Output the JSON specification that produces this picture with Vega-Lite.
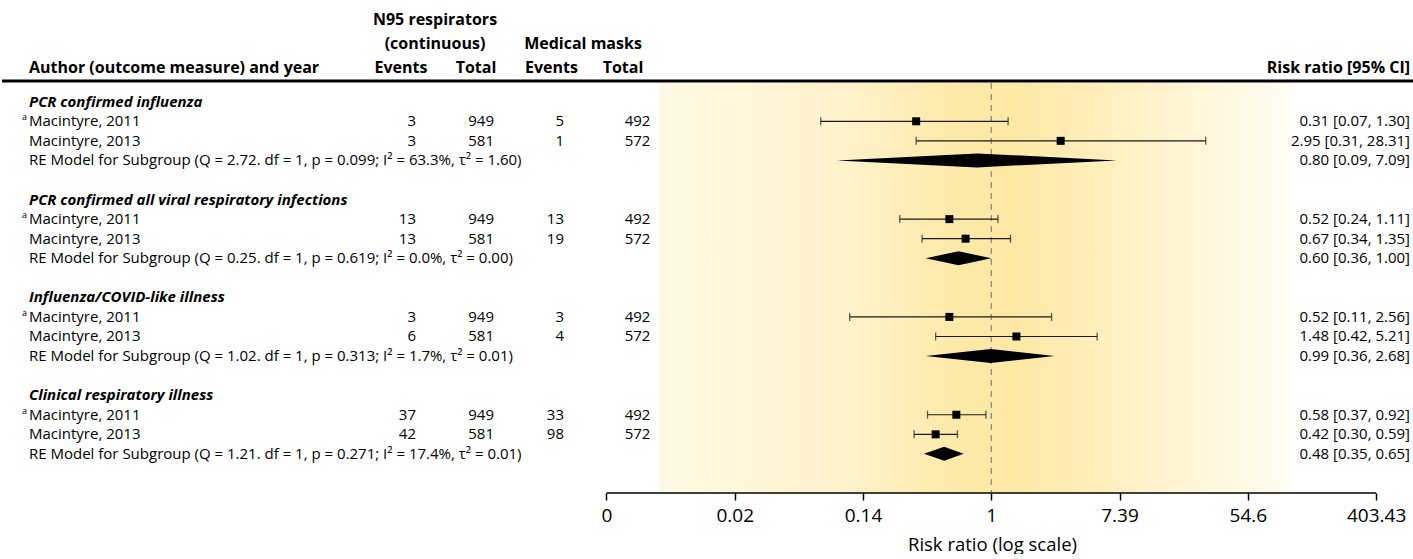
{
  "$schema": "https://vega.github.io/schema/vega-lite/v6.json",
  "width": 1413,
  "height": 493,
  "padding": 0,
  "autosize": {"type": "pad"},
  "background": "white",
  "config": {
    "view": {"stroke": null},
    "font": "Open Sans",
    "text": {"font": "Open Sans", "fontSize": 15, "color": "#000", "baseline": "middle"},
    "axisX": {"grid": false, "domain": false}
  },
  "datasets": {
    "rows": [
      {"row": 0, "kind": "title", "label": "PCR confirmed influenza"},
      {"row": 1, "kind": "study", "label": "Macintyre, 2011", "note": "a", "e1": 3, "n1": 949, "e2": 5, "n2": 492, "est": 0.31, "lo": 0.07, "hi": 1.30, "ci": "0.31 [0.07, 1.30]"},
      {"row": 2, "kind": "study", "label": "Macintyre, 2013", "e1": 3, "n1": 581, "e2": 1, "n2": 572, "est": 2.95, "lo": 0.31, "hi": 28.31, "ci": "2.95 [0.31, 28.31]"},
      {"row": 3, "kind": "model", "label": "RE Model for Subgroup (Q = 2.72. df = 1, p = 0.099; I² = 63.3%, τ² = 1.60)", "est": 0.80, "lo": 0.09, "hi": 7.09, "ci": "0.80 [0.09, 7.09]"},
      {"row": 5, "kind": "title", "label": "PCR confirmed all viral respiratory infections"},
      {"row": 6, "kind": "study", "label": "Macintyre, 2011", "note": "a", "e1": 13, "n1": 949, "e2": 13, "n2": 492, "est": 0.52, "lo": 0.24, "hi": 1.11, "ci": "0.52 [0.24, 1.11]"},
      {"row": 7, "kind": "study", "label": "Macintyre, 2013", "e1": 13, "n1": 581, "e2": 19, "n2": 572, "est": 0.67, "lo": 0.34, "hi": 1.35, "ci": "0.67 [0.34, 1.35]"},
      {"row": 8, "kind": "model", "label": "RE Model for Subgroup (Q = 0.25. df = 1, p = 0.619; I² = 0.0%, τ² = 0.00)", "est": 0.60, "lo": 0.36, "hi": 1.00, "ci": "0.60 [0.36, 1.00]"},
      {"row": 10, "kind": "title", "label": "Influenza/COVID-like illness"},
      {"row": 11, "kind": "study", "label": "Macintyre, 2011", "note": "a", "e1": 3, "n1": 949, "e2": 3, "n2": 492, "est": 0.52, "lo": 0.11, "hi": 2.56, "ci": "0.52 [0.11, 2.56]"},
      {"row": 12, "kind": "study", "label": "Macintyre, 2013", "e1": 6, "n1": 581, "e2": 4, "n2": 572, "est": 1.48, "lo": 0.42, "hi": 5.21, "ci": "1.48 [0.42, 5.21]"},
      {"row": 13, "kind": "model", "label": "RE Model for Subgroup (Q = 1.02. df = 1, p = 0.313; I² = 1.7%, τ² = 0.01)", "est": 0.99, "lo": 0.36, "hi": 2.68, "ci": "0.99 [0.36, 2.68]"},
      {"row": 15, "kind": "title", "label": "Clinical respiratory illness"},
      {"row": 16, "kind": "study", "label": "Macintyre, 2011", "note": "a", "e1": 37, "n1": 949, "e2": 33, "n2": 492, "est": 0.58, "lo": 0.37, "hi": 0.92, "ci": "0.58 [0.37, 0.92]"},
      {"row": 17, "kind": "study", "label": "Macintyre, 2013", "e1": 42, "n1": 581, "e2": 98, "n2": 572, "est": 0.42, "lo": 0.30, "hi": 0.59, "ci": "0.42 [0.30, 0.59]"},
      {"row": 18, "kind": "model", "label": "RE Model for Subgroup (Q = 1.21. df = 1, p = 0.271; I² = 17.4%, τ² = 0.01)", "est": 0.48, "lo": 0.35, "hi": 0.65, "ci": "0.48 [0.35, 0.65]"}
    ]
  },
  "data": {"name": "rows"},
  "layer": [
    {
      "transform": [{"filter": "datum.kind === 'study'"}],
      "mark": {"type": "rule", "color": "#1a1a1a", "strokeWidth": 1.2, "opacity": 0},
      "encoding": {
        "x": {"field": "lo", "type": "quantitative", "scale": {"type": "log", "domain": [2e-7, 740], "nice": false},
          "axis": {
            "values": [0.002478752, 0.018315639, 0.135335283, 1, 7.389056099, 54.59815003, 403.4287935],
            "format": ".2~f",
            "domain": false, "grid": false,
            "ticks": true, "tickSize": 7, "tickWidth": 1.5, "tickColor": "#000",
            "labelFont": "Open Sans", "labelFontSize": 19, "labelColor": "#000", "labelPadding": 6,
            "labelFlush": false, "labelOverlap": false,
            "title": "Risk ratio (log scale)", "titleFont": "Open Sans", "titleFontSize": 18.5, "titleFontWeight": "normal",
            "titleColor": "#000", "titlePadding": 10, "titleX": 990
          }},
        "x2": {"field": "hi"},
        "y": {"field": "row", "type": "quantitative", "scale": {"domain": [-5.2, 20], "reverse": true, "nice": false, "zero": false}, "axis": null}
      }
    },
    {
      "data": {"values": [{}]},
      "mark": {"type": "rect", "fill": {"gradient": "linear", "x1": 0, "y1": 0, "x2": 1, "y2": 0, "stops": [
        {"offset": 0, "color": "#fff9e4"},
        {"offset": 0.3, "color": "#fef2ca"},
        {"offset": 0.47, "color": "#fde9a8"},
        {"offset": 0.56, "color": "#fde8a4"},
        {"offset": 0.75, "color": "#fef1c6"},
        {"offset": 1, "color": "#fffdf3"}
      ]}},
      "encoding": {
        "x": {"datum": 0.005623, "type": "quantitative", "scale": {"type": "log", "domain": [2e-7, 740], "nice": false}},
        "x2": {"datum": 108.73},
        "y": {"datum": -0.96, "type": "quantitative", "scale": {"domain": [-5.2, 20], "reverse": true, "nice": false, "zero": false}, "axis": null},
        "y2": {"datum": 20}
      }
    },
    {
      "data": {"values": [{}]},
      "mark": {"type": "rule", "color": "#808080", "strokeWidth": 1.2, "strokeDash": [6, 5]},
      "encoding": {
        "x": {"datum": 1, "type": "quantitative", "scale": {"type": "log", "domain": [2e-7, 740], "nice": false}},
        "y": {"datum": -0.96, "type": "quantitative", "scale": {"domain": [-5.2, 20], "reverse": true, "nice": false, "zero": false}, "axis": null},
        "y2": {"datum": 20}
      }
    },
    {
      "data": {"values": [{}]},
      "mark": {"type": "rule", "color": "#000", "strokeWidth": 3},
      "encoding": {
        "x": {"datum": 2e-7, "type": "quantitative", "scale": {"type": "log", "domain": [2e-7, 740], "nice": false}},
        "x2": {"datum": 740},
        "y": {"datum": -1.06, "type": "quantitative", "scale": {"domain": [-5.2, 20], "reverse": true, "nice": false, "zero": false}, "axis": null}
      }
    },
    {
      "data": {"values": [{}]},
      "mark": {"type": "rule", "color": "#000", "strokeWidth": 1.5},
      "encoding": {
        "x": {"datum": 0.002478752, "type": "quantitative", "scale": {"type": "log", "domain": [2e-7, 740], "nice": false}},
        "x2": {"datum": 403.4287935},
        "y": {"datum": 20, "type": "quantitative", "scale": {"domain": [-5.2, 20], "reverse": true, "nice": false, "zero": false}, "axis": null}
      }
    },
    {
      "transform": [{"filter": "datum.kind === 'study'"}],
      "mark": {"type": "rule", "color": "#1a1a1a", "strokeWidth": 1.2},
      "encoding": {
        "x": {"field": "lo", "type": "quantitative", "scale": {"type": "log", "domain": [2e-7, 740], "nice": false}},
        "x2": {"field": "hi"},
        "y": {"field": "row", "type": "quantitative", "scale": {"domain": [-5.2, 20], "reverse": true, "nice": false, "zero": false}, "axis": null}
      }
    },
    {
      "transform": [{"filter": "datum.kind === 'study'"}, {"fold": ["lo", "hi"], "as": ["end", "value"]}],
      "mark": {"type": "tick", "orient": "vertical", "color": "#1a1a1a", "size": 8, "thickness": 1.3},
      "encoding": {
        "x": {"field": "value", "type": "quantitative", "scale": {"type": "log", "domain": [2e-7, 740], "nice": false}},
        "y": {"field": "row", "type": "quantitative", "scale": {"domain": [-5.2, 20], "reverse": true, "nice": false, "zero": false}, "axis": null}
      }
    },
    {
      "transform": [{"filter": "datum.kind === 'study'"}],
      "mark": {"type": "point", "shape": "square", "filled": true, "color": "#000", "size": 64, "opacity": 1},
      "encoding": {
        "x": {"field": "est", "type": "quantitative", "scale": {"type": "log", "domain": [2e-7, 740], "nice": false}},
        "y": {"field": "row", "type": "quantitative", "scale": {"domain": [-5.2, 20], "reverse": true, "nice": false, "zero": false}, "axis": null}
      }
    },
    {
      "transform": [{"filter": "datum.kind === 'model'"}, {"fold": ["lo", "est", "hi"], "as": ["key", "value"]}],
      "mark": {"type": "area", "orient": "vertical", "color": "#000", "opacity": 1,
        "yOffset": {"expr": "datum.key === 'est' ? -7 : 0"},
        "y2Offset": {"expr": "datum.key === 'est' ? 7 : 0"}},
      "encoding": {
        "x": {"field": "value", "type": "quantitative", "scale": {"type": "log", "domain": [2e-7, 740], "nice": false}},
        "y": {"field": "row", "type": "quantitative", "scale": {"domain": [-5.2, 20], "reverse": true, "nice": false, "zero": false}, "axis": null},
        "y2": {"field": "row"},
        "detail": {"field": "row", "type": "nominal"}
      }
    },
    {
      "transform": [{"filter": "datum.kind === 'title'"}],
      "mark": {"type": "text", "align": "left", "fontWeight": "bold", "fontStyle": "italic"},
      "encoding": {
        "x": {"datum": 3.047e-7, "type": "quantitative", "scale": {"type": "log", "domain": [2e-7, 740], "nice": false}},
        "y": {"field": "row", "type": "quantitative", "scale": {"domain": [-5.2, 20], "reverse": true, "nice": false, "zero": false}, "axis": null},
        "text": {"field": "label"}
      }
    },
    {
      "transform": [{"filter": "datum.kind !== 'title'"}],
      "mark": {"type": "text", "align": "left"},
      "encoding": {
        "x": {"datum": 3.047e-7, "type": "quantitative", "scale": {"type": "log", "domain": [2e-7, 740], "nice": false}},
        "y": {"field": "row", "type": "quantitative", "scale": {"domain": [-5.2, 20], "reverse": true, "nice": false, "zero": false}, "axis": null},
        "text": {"field": "label"}
      }
    },
    {
      "transform": [{"filter": "datum.note"}],
      "mark": {"type": "text", "align": "left", "fontSize": 9, "dy": -4},
      "encoding": {
        "x": {"datum": 2.732e-7, "type": "quantitative", "scale": {"type": "log", "domain": [2e-7, 740], "nice": false}},
        "y": {"field": "row", "type": "quantitative", "scale": {"domain": [-5.2, 20], "reverse": true, "nice": false, "zero": false}, "axis": null},
        "text": {"field": "note"}
      }
    },
    {
      "transform": [{"filter": "datum.kind === 'study'"}],
      "mark": {"type": "text", "align": "right"},
      "encoding": {
        "x": {"datum": 1.272e-4, "type": "quantitative", "scale": {"type": "log", "domain": [2e-7, 740], "nice": false}},
        "y": {"field": "row", "type": "quantitative", "scale": {"domain": [-5.2, 20], "reverse": true, "nice": false, "zero": false}, "axis": null},
        "text": {"field": "e1"}
      }
    },
    {
      "transform": [{"filter": "datum.kind === 'study'"}],
      "mark": {"type": "text", "align": "right"},
      "encoding": {
        "x": {"datum": 4.292e-4, "type": "quantitative", "scale": {"type": "log", "domain": [2e-7, 740], "nice": false}},
        "y": {"field": "row", "type": "quantitative", "scale": {"domain": [-5.2, 20], "reverse": true, "nice": false, "zero": false}, "axis": null},
        "text": {"field": "n1"}
      }
    },
    {
      "transform": [{"filter": "datum.kind === 'study'"}],
      "mark": {"type": "text", "align": "right"},
      "encoding": {
        "x": {"datum": 1.2785e-3, "type": "quantitative", "scale": {"type": "log", "domain": [2e-7, 740], "nice": false}},
        "y": {"field": "row", "type": "quantitative", "scale": {"domain": [-5.2, 20], "reverse": true, "nice": false, "zero": false}, "axis": null},
        "text": {"field": "e2"}
      }
    },
    {
      "transform": [{"filter": "datum.kind === 'study'"}],
      "mark": {"type": "text", "align": "right"},
      "encoding": {
        "x": {"datum": 4.918e-3, "type": "quantitative", "scale": {"type": "log", "domain": [2e-7, 740], "nice": false}},
        "y": {"field": "row", "type": "quantitative", "scale": {"domain": [-5.2, 20], "reverse": true, "nice": false, "zero": false}, "axis": null},
        "text": {"field": "n2"}
      }
    },
    {
      "transform": [{"filter": "datum.kind !== 'title'"}],
      "mark": {"type": "text", "align": "right"},
      "encoding": {
        "x": {"datum": 684.7, "type": "quantitative", "scale": {"type": "log", "domain": [2e-7, 740], "nice": false}},
        "y": {"field": "row", "type": "quantitative", "scale": {"domain": [-5.2, 20], "reverse": true, "nice": false, "zero": false}, "axis": null},
        "text": {"field": "ci"}
      }
    },
    {
      "data": {"values": [{}]},
      "mark": {"type": "text", "align": "center", "fontWeight": "bold", "fontSize": 16, "text": "N95 respirators"},
      "encoding": {
        "x": {"datum": 1.7105e-4, "type": "quantitative", "scale": {"type": "log", "domain": [2e-7, 740], "nice": false}},
        "y": {"datum": -4.18, "type": "quantitative", "scale": {"domain": [-5.2, 20], "reverse": true, "nice": false, "zero": false}, "axis": null}
      }
    },
    {
      "data": {"values": [{}]},
      "mark": {"type": "text", "align": "center", "fontWeight": "bold", "fontSize": 16, "text": "(continuous)"},
      "encoding": {
        "x": {"datum": 1.7105e-4, "type": "quantitative", "scale": {"type": "log", "domain": [2e-7, 740], "nice": false}},
        "y": {"datum": -2.95, "type": "quantitative", "scale": {"domain": [-5.2, 20], "reverse": true, "nice": false, "zero": false}, "axis": null}
      }
    },
    {
      "data": {"values": [{}]},
      "mark": {"type": "text", "align": "center", "fontWeight": "bold", "fontSize": 16, "text": "Medical masks"},
      "encoding": {
        "x": {"datum": 1.719e-3, "type": "quantitative", "scale": {"type": "log", "domain": [2e-7, 740], "nice": false}},
        "y": {"datum": -2.95, "type": "quantitative", "scale": {"domain": [-5.2, 20], "reverse": true, "nice": false, "zero": false}, "axis": null}
      }
    },
    {
      "data": {"values": [{}]},
      "mark": {"type": "text", "align": "left", "fontWeight": "bold", "fontSize": 16, "text": "Author (outcome measure) and year"},
      "encoding": {
        "x": {"datum": 3.047e-7, "type": "quantitative", "scale": {"type": "log", "domain": [2e-7, 740], "nice": false}},
        "y": {"datum": -1.72, "type": "quantitative", "scale": {"domain": [-5.2, 20], "reverse": true, "nice": false, "zero": false}, "axis": null}
      }
    },
    {
      "data": {"values": [{}]},
      "mark": {"type": "text", "align": "center", "fontWeight": "bold", "fontSize": 16, "text": "Events"},
      "encoding": {
        "x": {"datum": 1.0066e-4, "type": "quantitative", "scale": {"type": "log", "domain": [2e-7, 740], "nice": false}},
        "y": {"datum": -1.72, "type": "quantitative", "scale": {"domain": [-5.2, 20], "reverse": true, "nice": false, "zero": false}, "axis": null}
      }
    },
    {
      "data": {"values": [{}]},
      "mark": {"type": "text", "align": "center", "fontWeight": "bold", "fontSize": 16, "text": "Total"},
      "encoding": {
        "x": {"datum": 3.242e-4, "type": "quantitative", "scale": {"type": "log", "domain": [2e-7, 740], "nice": false}},
        "y": {"datum": -1.72, "type": "quantitative", "scale": {"domain": [-5.2, 20], "reverse": true, "nice": false, "zero": false}, "axis": null}
      }
    },
    {
      "data": {"values": [{}]},
      "mark": {"type": "text", "align": "center", "fontWeight": "bold", "fontSize": 16, "text": "Events"},
      "encoding": {
        "x": {"datum": 1.0519e-3, "type": "quantitative", "scale": {"type": "log", "domain": [2e-7, 740], "nice": false}},
        "y": {"datum": -1.72, "type": "quantitative", "scale": {"domain": [-5.2, 20], "reverse": true, "nice": false, "zero": false}, "axis": null}
      }
    },
    {
      "data": {"values": [{}]},
      "mark": {"type": "text", "align": "center", "fontWeight": "bold", "fontSize": 16, "text": "Total"},
      "encoding": {
        "x": {"datum": 3.207e-3, "type": "quantitative", "scale": {"type": "log", "domain": [2e-7, 740], "nice": false}},
        "y": {"datum": -1.72, "type": "quantitative", "scale": {"domain": [-5.2, 20], "reverse": true, "nice": false, "zero": false}, "axis": null}
      }
    },
    {
      "data": {"values": [{}]},
      "mark": {"type": "text", "align": "right", "fontWeight": "bold", "fontSize": 16, "text": "Risk ratio [95% CI]"},
      "encoding": {
        "x": {"datum": 684.7, "type": "quantitative", "scale": {"type": "log", "domain": [2e-7, 740], "nice": false}},
        "y": {"datum": -1.72, "type": "quantitative", "scale": {"domain": [-5.2, 20], "reverse": true, "nice": false, "zero": false}, "axis": null}
      }
    }
  ]
}
